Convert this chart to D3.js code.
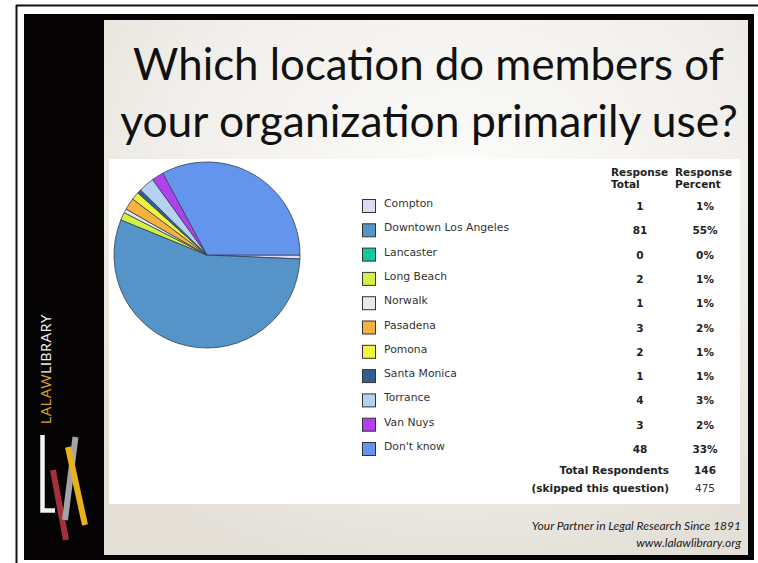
<!DOCTYPE html>
<html>
<head>
<meta charset="utf-8">
<script src="https://cdn.jsdelivr.net/npm/d3@7"></script>
<style>
  body { margin: 0; background: #fff; }
  svg { display: block; }
</style>
</head>
<body>
<div id="chart"></div>
<script>
// Survey data
const locations = ["Compton", "Downtown Los Angeles", "Lancaster", "Long Beach", "Norwalk",
  "Pasadena", "Pomona", "Santa Monica", "Torrance", "Van Nuys", "Don't know"];
const totals = [1, 81, 0, 2, 1, 3, 2, 1, 4, 3, 48];
const percents = ["1%", "55%", "0%", "1%", "1%", "2%", "1%", "1%", "3%", "2%", "33%"];
const totalRespondents = 146;
const skipped = 475;

const titleLines = ["Which location do members of", "your organization primarily use?"];

const width = 758, height = 563;

const svg = d3.select("#chart").append("svg")
    .attr("width", width)
    .attr("height", height);

// slide background gradient
const defs = svg.append("defs");
const grad = defs.append("radialGradient")
    .attr("id", "slideBg")
    .attr("cx", "55%").attr("cy", "30%").attr("r", "75%");
grad.append("stop").attr("offset", "0%").attr("stop-color", "#fcfcfb");
grad.append("stop").attr("offset", "60%").attr("stop-color", "#f1efeb");
grad.append("stop").attr("offset", "100%").attr("stop-color", "#e4e0d8");

// outer frame lines
svg.append("line").attr("x1", 16).attr("x2", 758).attr("y1", 5.5).attr("y2", 5.5)
    .attr("stroke", "#111").attr("stroke-width", 2);
svg.append("line").attr("x1", 16.5).attr("x2", 16.5).attr("y1", 5).attr("y2", 563)
    .attr("stroke", "#111").attr("stroke-width", 2);

// black slide frame + sidebar
svg.append("rect").attr("x", 24).attr("y", 14).attr("width", 730).attr("height", 546)
    .attr("fill", "#050303");
svg.append("rect").attr("x", 104).attr("y", 20).attr("width", 644).attr("height", 535)
    .attr("fill", "url(#slideBg)");

// sidebar brand text
const brand = svg.append("text")
    .attr("transform", "translate(51,424) rotate(-90)")
    .attr("font-family", "Lato, 'Open Sans', sans-serif")
    .attr("font-size", 14)
    .attr("letter-spacing", 0.6);
brand.append("tspan").attr("fill", "#d9a520").text("LALAW");
brand.append("tspan").attr("fill", "#f2f2f2").text("LIBRARY");

// logo strokes
const logo = svg.append("g").attr("stroke-linecap", "butt");
logo.append("path").attr("d", "M42.5,435 V510.5 H55").attr("fill", "none")
    .attr("stroke", "#f4f4f4").attr("stroke-width", 4.5);
logo.append("line").attr("x1", 53).attr("y1", 470).attr("x2", 66).attr("y2", 540)
    .attr("stroke", "#a3303c").attr("stroke-width", 6);
logo.append("line").attr("x1", 75.5).attr("y1", 437).attr("x2", 65).attr("y2", 520)
    .attr("stroke", "#a2a4a8").attr("stroke-width", 6);
logo.append("line").attr("x1", 68).attr("y1", 447).attr("x2", 85).attr("y2", 525)
    .attr("stroke", "#e8b01e").attr("stroke-width", 6);

// title, fitted to the slide's title width
const titleSpec = [{x0: 133, x1: 724, y: 80}, {x0: 120, x1: 738, y: 137}];
titleLines.forEach((t, i) => {
  const s = titleSpec[i];
  const txt = svg.append("text")
      .attr("x", (s.x0 + s.x1) / 2)
      .attr("y", s.y)
      .attr("text-anchor", "middle")
      .attr("font-family", "Lato, 'Open Sans', sans-serif")
      .attr("font-size", 40)
      .attr("fill", "#111")
      .text(t);
  const w = txt.node().getComputedTextLength();
  txt.attr("font-size", 40 * (s.x1 - s.x0) / w);
});

// white panel
svg.append("rect").attr("x", 109).attr("y", 159).attr("width", 631).attr("height", 345)
    .attr("fill", "#fff");

// colours
const color = d3.scaleOrdinal()
    .domain(locations)
    .range(["#dcdcf4", "#5593c8", "#10c99a", "#d2f048", "#e8e8ee", "#f5b240",
            "#f2f240", "#2f5f92", "#b4d2f0", "#b040f0", "#6495ed"]);

// pie
const data = locations.map((name, i) => ({name, total: totals[i], pct: percents[i]}));
const pie = d3.pie()
    .sort(null)
    .value(d => d.total)
    .startAngle(Math.PI / 2)
    .endAngle(Math.PI / 2 + 2 * Math.PI);
const arc = d3.arc().innerRadius(0).outerRadius(93);

svg.append("g")
    .attr("transform", "translate(207,255)")
  .selectAll("path")
  .data(pie(data).filter(d => d.data.total > 0))
  .enter().append("path")
    .attr("d", arc)
    .attr("fill", d => color(d.data.name))
    .attr("stroke", "#34404c")
    .attr("stroke-width", 0.8)
    .attr("stroke-linejoin", "round");

// legend / table
const font = "Verdana, 'DejaVu Sans', sans-serif";
const rowY = d3.scalePoint().domain(locations).range([206, 449]);
const colTotal = 640, colPct = 705;

const head = svg.append("g")
    .attr("font-family", font).attr("font-size", 10.5).attr("font-weight", "bold")
    .attr("fill", "#222");
head.append("text").attr("x", 611).attr("y", 176).text("Response");
head.append("text").attr("x", 611).attr("y", 188).text("Total");
head.append("text").attr("x", 675).attr("y", 176).text("Response");
head.append("text").attr("x", 675).attr("y", 188).text("Percent");

const rows = svg.append("g")
    .attr("font-family", font)
  .selectAll("g")
  .data(data)
  .enter().append("g")
    .attr("transform", d => `translate(0,${rowY(d.name)})`);

rows.append("rect")
    .attr("x", 362.5).attr("y", -6.5)
    .attr("width", 13).attr("height", 13)
    .attr("fill", d => color(d.name))
    .attr("stroke", "#333").attr("stroke-width", 1);

rows.append("text")
    .attr("x", 384).attr("y", 1)
    .attr("font-size", 10.8)
    .attr("fill", "#333")
    .text(d => d.name);

rows.append("text")
    .attr("x", colTotal).attr("y", 4)
    .attr("text-anchor", "middle")
    .attr("font-size", 10.5).attr("font-weight", "bold").attr("fill", "#222")
    .text(d => d.total);

rows.append("text")
    .attr("x", colPct).attr("y", 4)
    .attr("text-anchor", "middle")
    .attr("font-size", 10.5).attr("font-weight", "bold").attr("fill", "#222")
    .text(d => d.pct);

const foot = svg.append("g").attr("font-family", font).attr("font-size", 10.5).attr("fill", "#222");
foot.append("text").attr("x", 669).attr("y", 474).attr("text-anchor", "end")
    .attr("font-weight", "bold").text("Total Respondents");
foot.append("text").attr("x", colPct).attr("y", 474).attr("text-anchor", "middle")
    .attr("font-weight", "bold").text(totalRespondents);
foot.append("text").attr("x", 669).attr("y", 492).attr("text-anchor", "end")
    .attr("font-weight", "bold").text("(skipped this question)");
foot.append("text").attr("x", colPct).attr("y", 492).attr("text-anchor", "middle")
    .attr("fill", "#333").text(skipped);

// slide footer
const tag = svg.append("g")
    .attr("font-family", "Lato, 'Open Sans', sans-serif")
    .attr("font-style", "italic")
    .attr("fill", "#222")
    .attr("text-anchor", "end");
tag.append("text").attr("x", 741).attr("y", 530).attr("font-size", 12)
    .text("Your Partner in Legal Research Since 1891");
tag.append("text").attr("x", 741).attr("y", 547).attr("font-size", 12)
    .text("www.lalawlibrary.org");
</script>
</body>
</html>
